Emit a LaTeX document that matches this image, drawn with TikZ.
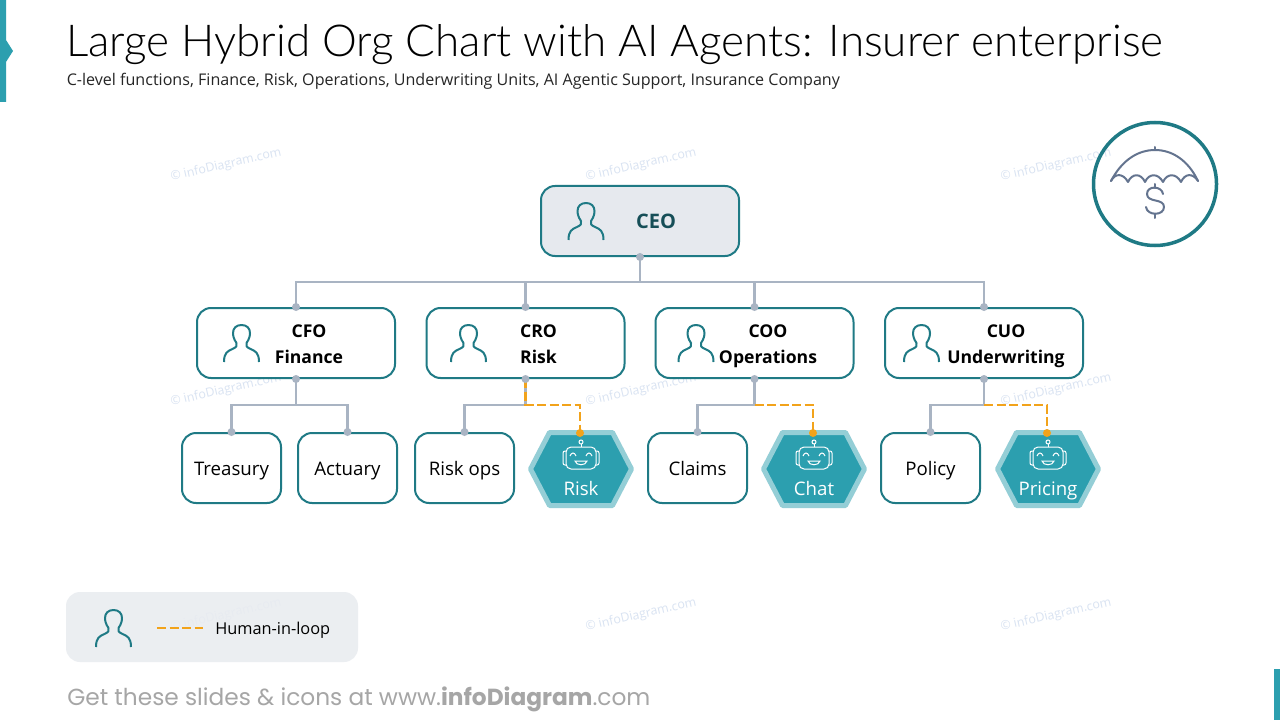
\documentclass[tikz,border=0pt]{standalone}
\usepackage{fontspec}
\setmainfont{Open Sans}
\newfontfamily\titlefont{Lato Light}
\newfontfamily\footfont{Poppins}
\newcommand\px{0.75pt}
\definecolor{teal}{HTML}{1F7A85}
\definecolor{agent}{HTML}{2C9FAF}
\definecolor{agentedge}{HTML}{94CED6}
\definecolor{conn}{HTML}{A9B4C3}
\definecolor{hil}{HTML}{F2A31B}
\definecolor{slate}{HTML}{64748F}
\definecolor{wm}{HTML}{D9E3F2}
\definecolor{ceofill}{HTML}{E6E9EE}
\definecolor{legendfill}{HTML}{E9ECF0}
\definecolor{ceotext}{HTML}{164E57}
\definecolor{footgray}{HTML}{A6A6A6}
\definecolor{subtext}{HTML}{262626}
\tikzset{
  orgbox/.style={draw=teal,line width=2*\px,rounded corners=14*\px,fill=white,inner sep=0pt},
  ceobox/.style={orgbox,fill=ceofill,minimum width=198*\px,minimum height=70*\px},
  midbox/.style={orgbox,minimum width=198*\px,minimum height=70*\px},
  leafbox/.style={orgbox,minimum width=99*\px,minimum height=70*\px,text height=13.5pt,text depth=3pt,font=\fontsize{14}{17}\selectfont},
  agentnode/.style={inner sep=0pt,minimum width=106*\px,minimum height=78*\px},
  boldlbl/.style={align=center,inner sep=0pt,font=\fontsize{13.2}{19.5}\selectfont\bfseries},
  wmark/.style={text=wm,rotate=13,font=\fontsize{9.3}{11}\selectfont,inner sep=0pt},
  bus/.style={draw=conn,line width=2.6*\px},
  loop/.style={draw=hil,line width=2.8*\px,dash pattern=on 9*\px off 3.5*\px},
  dotc/.style={fill=conn,draw=none},
  doth/.style={fill=hil,draw=none},
  icon/.style={draw=teal,line width=2*\px,line join=round,fill=none},
}
% person icon: top-centre at #1,#2
\newcommand\personicon[2]{%
  \begin{scope}[shift={(#1,#2)}]
    \draw[icon] (-17.5,37) .. controls (-17.5,28) and (-14,26) .. (-9,24)
      .. controls (-5,22) and (-4,21) .. (-5,18)
      .. controls (-8,14) and (-8.5,10) .. (-8.5,8)
      .. controls (-8.5,3) and (-5,0) .. (0,0)
      .. controls (5,0) and (8.5,3) .. (8.5,8)
      .. controls (8.5,10) and (8,14) .. (5,18)
      .. controls (4,21) and (5,22) .. (9,24)
      .. controls (14,26) and (17.5,28) .. (17.5,37);
  \end{scope}}
% robot icon: centre of head at #1,#2
\newcommand\roboticon[2]{%
  \begin{scope}[shift={(#1,#2)}]
    \draw[white,line width=1*\px,rounded corners=5*\px] (-15,-11) rectangle (15,11);
    \draw[white,line width=1*\px,rounded corners=2*\px] (-15,-7) -- (-18,-7) -- (-18,7) -- (-15,7);
    \draw[white,line width=1*\px,rounded corners=2*\px] (15,-7) -- (18,-7) -- (18,7) -- (15,7);
    \draw[white,line width=1*\px] (0,-11) -- (0,-14);
    \draw[white,line width=1*\px] (0,-16) circle[radius=2*\px];
    \draw[white,line width=1*\px] (-11,-2) .. controls (-9.5,-6) and (-6.5,-6) .. (-5,-2);
    \draw[white,line width=1*\px] (5,-2) .. controls (6.5,-6) and (9.5,-6) .. (11,-2);
    \draw[white,line width=1*\px] (-6,3) -- (6,3) .. controls (5,8) and (-5,8) .. (-6,3) -- cycle;
  \end{scope}}
% hexagon agent: name, cx, label
\newcommand\agenthex[3]{%
  \node[agentnode] (#1) at (#2,469) {};
  \draw[fill=agent,draw=agentedge,line width=5*\px,line join=round]
    ([xshift=-50.5*\px]#1.center) -- ([xshift=-31.5*\px,yshift=36.5*\px]#1.center)
    -- ([xshift=31.5*\px,yshift=36.5*\px]#1.center) -- ([xshift=50.5*\px]#1.center)
    -- ([xshift=31.5*\px,yshift=-36.5*\px]#1.center) -- ([xshift=-31.5*\px,yshift=-36.5*\px]#1.center) -- cycle;
  \roboticon{#2}{458}
  \node[anchor=base,text=white,inner sep=0pt,font=\fontsize{14}{17}\selectfont] (#1txt) at (#2,495) {#3};}
\begin{document}
\begin{tikzpicture}[x=0.75pt,y=-0.75pt]
\useasboundingbox (0,0) rectangle (1280,720);
\fill[white] (0,0) rectangle (1280,720);
% side marks
\fill[agent] (0,0) -- (6,0) -- (6,40) -- (13,51) -- (6,62) -- (6,102) -- (0,102) -- cycle;
\fill[agent] (1274,669) rectangle (1280,720);
% watermarks
\foreach \wx/\wy [count=\wi] in {226/165,641/165,1056/165,226/390,641/390,1056/390,226/615,641/615,1056/615}
  \node[wmark] (wm\wi) at (\wx,\wy) {© infoDiagram.com};
% title
\node[anchor=base west,inner sep=0pt,font=\titlefont\fontsize{33}{40}\selectfont] (title) at (66,57) {Large Hybrid Org Chart with AI Agents: Insurer enterprise};
\node[anchor=base west,inner sep=0pt,text=subtext,font=\fontsize{12.06}{14}\selectfont] (subtitle) at (66.5,86) {C-level functions, Finance, Risk, Operations, Underwriting Units, AI Agentic Support, Insurance Company};
% org boxes
\node[ceobox] (ceo) at (640,221) {};
\node[midbox] (cfo) at (296,343) {};
\node[midbox] (cro) at (525.5,343) {};
\node[midbox] (coo) at (754.5,343) {};
\node[midbox] (cuo) at (984,343) {};
\node[leafbox] (treasury) at (231.5,468) {Treasury};
\node[leafbox] (actuary) at (347.5,468) {Actuary};
\node[leafbox] (riskops) at (464.5,468) {Risk ops};
\node[leafbox] (claims) at (697.5,468) {Claims};
\node[leafbox] (policy) at (930.5,468) {Policy};
\agenthex{riskai}{581}{Risk}
\agenthex{chatai}{814}{Chat}
\agenthex{priceai}{1048}{Pricing}
% box text
\node[boldlbl,text=ceotext,font=\fontsize{15}{18}\selectfont\bfseries] (ceotxt) at (656,221) {CEO};
\node[boldlbl] (cfotxt) at (309,345) {CFO\strut\\Finance\strut};
\node[boldlbl] (crotxt) at (538.5,345) {CRO\strut\\Risk\strut};
\node[boldlbl] (cootxt) at (768,345) {COO\strut\\Operations\strut};
\node[boldlbl] (cuotxt) at (1006,345) {CUO\strut\\Underwriting\strut};
% people
\personicon{586}{203}
\personicon{241.5}{325}
\personicon{468.5}{325}
\personicon{696}{325}
\personicon{921.5}{325}
% connectors level 1
\coordinate (busc) at (640,282);
\draw[bus] (ceo.south) -- (busc);
\draw[bus] (cfo.north) |- (busc) -| (cuo.north);
\draw[bus] (cro.north) -- (cro.north |- busc);
\draw[bus] (coo.north) -- (coo.north |- busc);
% connectors level 2
\coordinate (cfol) at (296,405);
\draw[bus] (cfo.south) -- (cfol);
\draw[bus] (treasury.north) |- (cfol) -| (actuary.north);
\coordinate (crol) at (525.5,405);
\draw[bus] (cro.south) -- (crol);
\draw[bus] (riskops.north) |- (crol);
\coordinate (cool) at (754.5,405);
\draw[bus] (coo.south) -- (cool);
\draw[bus] (claims.north) |- (cool);
\coordinate (cuol) at (984,405);
\draw[bus] (cuo.south) -- (cuol);
\draw[bus] (policy.north) |- (cuol);
% human in loop
\coordinate (riskin) at (580,433);
\coordinate (chatin) at (813,433);
\coordinate (pricein) at (1047,433);
\draw[loop] (cro.south) -- (crol) -| (riskin);
\draw[loop] (cool) -| (chatin);
\draw[loop] (cuol) -| (pricein);
% dots
\foreach \d in {ceo.south,cfo.north,cro.north,coo.north,cuo.north,cfo.south,cro.south,coo.south,cuo.south,treasury.north,actuary.north,riskops.north,claims.north,policy.north}
  \fill[dotc] (\d) circle[radius=4*\px];
\foreach \d in {riskin,chatin,pricein}
  \fill[doth] (\d) circle[radius=4*\px];
% umbrella badge
\node[circle,draw=teal,line width=3.5*\px,minimum size=123*\px,inner sep=0pt] (badge) at (1155,184) {};
\begin{scope}[draw=slate,line width=2*\px,line cap=round,line join=round]
  \draw (1111,181) .. controls (1122,160) and (1138,150) .. (1155,150) .. controls (1172,150) and (1188,160) .. (1198,181);
  \draw (1155,147) -- (1155,150);
  \draw (1111,181) .. controls (1115,173) and (1123,173) .. (1128,182)
        .. controls (1132,173) and (1141,173) .. (1145,182)
        .. controls (1149,173) and (1158,173) .. (1163,182)
        .. controls (1167,173) and (1176,173) .. (1181,182)
        .. controls (1185,173) and (1193,173) .. (1198,181);
  \draw (1155,184) -- (1155,188);
  \draw (1155,214) -- (1155,218);
  \draw (1163,194) .. controls (1162,186) and (1147,185) .. (1147,194)
        .. controls (1147,203) and (1164,198) .. (1164,207)
        .. controls (1164,216) and (1147,216) .. (1146,207);
\end{scope}
% legend
\node[draw=none,fill=legendfill,fill opacity=0.88,rounded corners=14*\px,minimum width=292*\px,minimum height=70*\px,inner sep=0pt] (legend) at (212,627) {};
\personicon{113.5}{610}
\coordinate (lga) at (157,628);
\coordinate (lgb) at (203,628);
\draw[loop] (lga) -- (lgb);
\node[anchor=west,inner sep=0pt,font=\fontsize{12.25}{15}\selectfont] (legendtxt) at (215,630) {Human-in-loop};
% footer
\node[anchor=base west,inner sep=0pt,text=footgray,font=\footfont\fontsize{17.45}{21}\selectfont] (footer) at (67,705) {Get these slides \& icons at www.\textbf{infoDiagram}.com};
\end{tikzpicture}
\end{document}
